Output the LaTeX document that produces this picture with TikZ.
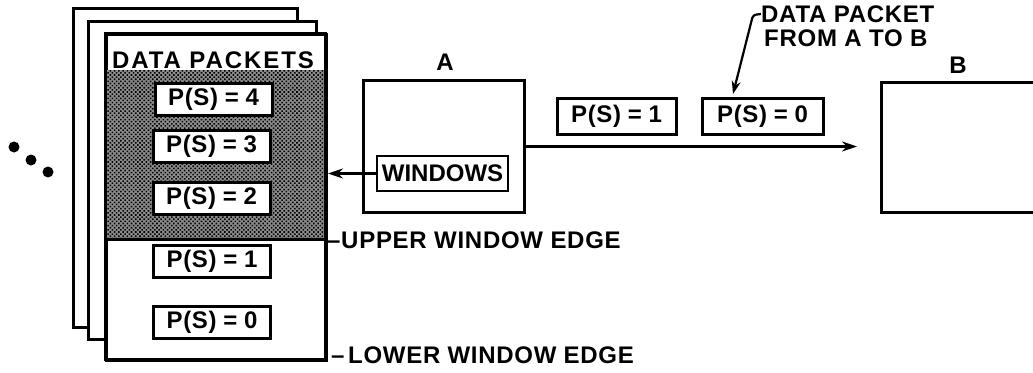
\documentclass[tikz,border=0pt]{standalone}
\usepackage{fontspec}
\setmainfont{Liberation Sans}[LetterSpace=3]
\usetikzlibrary{arrows.meta,patterns.meta}
\begin{document}
\begin{tikzpicture}[x=1pt,y=-1pt,
  every node/.style={font=\fontsize{24}{26}\selectfont\bfseries},
  page/.style={draw, line width=3pt, fill=white, inner sep=0pt, anchor=north west},
  pkt/.style={draw, line width=3pt, fill=white, minimum width=117pt, minimum height=32pt, inner sep=0pt},
  lbl/.style={anchor=west, inner sep=0pt},
  conn/.style={line width=2.2pt, -{Stealth[length=15pt,width=10pt]}},
  dot/.style={fill=black}
]
\useasboundingbox (0,0) rectangle (1033,372);
\clip (0,0) rectangle (1033,372);
% dots
\fill[dot] (14,147) circle (5.5pt);
\fill[dot] (31,160) circle (5.5pt);
\fill[dot] (48,172) circle (5.5pt);
% pages
\node[page, minimum width=224pt, minimum height=319pt] (back) at (72,7) {};
\node[page, minimum width=228pt, minimum height=318pt] (mid) at (87,20) {};
\node[page, minimum width=220pt, minimum height=326pt] (front) at (105,33) {};
\fill[black!45] (105,70) rectangle (325,239);
\fill[pattern={Dots[distance=3pt,radius=1.1pt,angle=45]}] (105,70) rectangle (325,239);
\draw[line width=3pt] (105,239) -- (325,239);
\draw[line width=3pt] (105,33) rectangle (325,359);
\node (dp) at (213,60) {\addfontfeature{LetterSpace=8}DATA PACKETS};
\node[pkt] (p4) at (213.5,99.5) {P(S)\;=\;4};
\node[pkt] (p3) at (211.5,146.5) {P(S)\;=\;3};
\node[pkt] (p2) at (211.5,198) {P(S)\;=\;2};
\node[pkt] (p1) at (212,261.5) {P(S)\;=\;1};
\node[pkt] (p0) at (212,322.5) {P(S)\;=\;0};
\node[lbl] (up) at (327,240) {–UPPER WINDOW EDGE};
\node[lbl] (low) at (331,355) {–\hspace{0.15em}LOWER\hspace{0.3em}WINDOW\hspace{0.3em}EDGE};
% A
\node[page, minimum width=161pt, minimum height=132pt] (A) at (362,79) {};
\node (Alab) at (445,62) {A};
\node[draw, line width=2.6pt, minimum width=131pt, minimum height=35pt, inner sep=0pt] (win) at (442.5,173.5) {\addfontfeature{LetterSpace=0}WINDOWS};
\draw[conn] (win.west) -- (win.west -| front.east);
% link
\coordinate (tip) at (857,146);
\draw[conn] (A.east) -- (A.east -| tip);
\node[pkt, minimum width=119pt, minimum height=36pt] (q1) at (616.5,116) {P(S)\;=\;1};
\node[pkt, minimum width=121pt, minimum height=36pt] (q0) at (762.5,116) {P(S)\;=\;0};
% B
\node[page, minimum width=200pt, minimum height=130pt] (B) at (880,81) {};
\node (Blab) at (958,65) {B};
% callout
\node[lbl] (c1) at (761,14) {DATA PACKET};
\node[lbl] (c2) at (764,38.5) {FROM A TO B};
\coordinate (ctip) at (733,94);
\draw[line width=2.2pt, rounded corners=3pt, -{Stealth[length=13pt,width=9pt]}] (c1.west) -- ++(-8,1) -- (ctip);
\end{tikzpicture}
\end{document}
